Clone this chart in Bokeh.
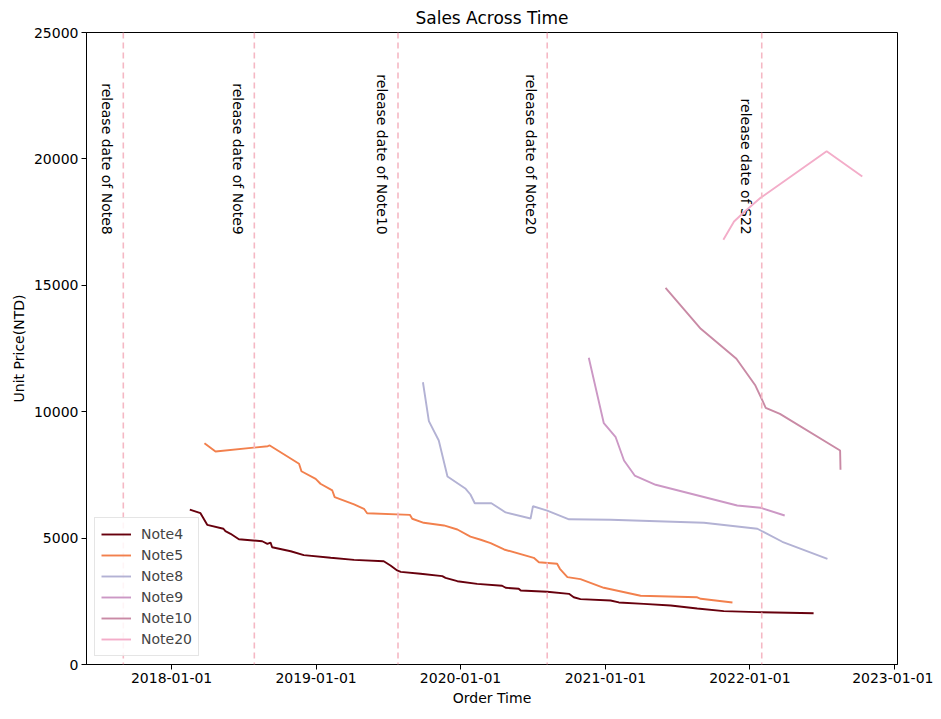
import math
import pandas as pd
from bokeh.plotting import figure
from bokeh.models import (Span, Legend, LegendItem, FixedTicker, DatetimeTickFormatter,
                          Range1d, ColumnDataSource)
from bokeh.core.properties import value
from bokeh.embed import file_html
from bokeh.resources import INLINE

FONT = "DejaVu Sans"

# ---------------- data ----------------
note4_dates = ["2018-02-16", "2018-03-15", "2018-04-01", "2018-05-12", "2018-05-17", "2018-05-30",
               "2018-06-20", "2018-08-18", "2018-08-31", "2018-09-08", "2018-09-12", "2018-10-29",
               "2018-12-01", "2019-02-07", "2019-04-07", "2019-06-21", "2019-07-08", "2019-07-25",
               "2019-08-03", "2019-09-22", "2019-11-16", "2019-11-24", "2019-12-24", "2020-02-12",
               "2020-04-15", "2020-04-24", "2020-05-27", "2020-06-01", "2020-08-07", "2020-10-01",
               "2020-10-13", "2020-10-30", "2021-01-14", "2021-02-04", "2021-04-08", "2021-06-15",
               "2021-08-21", "2021-10-27", "2022-01-20", "2022-06-11"]
note4_price = [6130, 5985, 5525, 5370, 5275, 5170,
               4955, 4875, 4775, 4825, 4640, 4480,
               4325, 4220, 4140, 4085, 3915, 3720,
               3665, 3590, 3495, 3430, 3295, 3190,
               3115, 3035, 2995, 2925, 2875, 2795,
               2660, 2585, 2530, 2455, 2400, 2335,
               2215, 2110, 2070, 2030]

note5_dates = ["2018-03-25", "2018-04-22", "2018-09-01", "2018-09-06", "2018-11-19", "2018-11-25",
               "2018-12-31", "2019-01-12", "2019-02-11", "2019-02-17", "2019-04-07", "2019-05-02",
               "2019-05-10", "2019-08-26", "2019-09-01", "2019-09-30", "2019-11-20", "2019-12-24",
               "2020-01-26", "2020-02-21", "2020-03-17", "2020-04-20", "2020-07-04", "2020-07-17",
               "2020-09-01", "2020-09-08", "2020-09-27", "2020-10-30", "2020-12-28", "2021-03-31",
               "2021-08-21", "2021-08-30", "2021-11-18"]
note5_price = [8755, 8425, 8635, 8665, 7940, 7645,
               7345, 7150, 6885, 6620, 6330, 6160,
               5985, 5920, 5765, 5605, 5500, 5340,
               5060, 4935, 4800, 4550, 4220, 4045,
               3985, 3785, 3455, 3375, 3035, 2720,
               2660, 2600, 2455]

note8_dates = ["2019-09-28", "2019-10-13", "2019-11-07", "2019-11-29", "2020-01-14", "2020-01-26",
               "2020-02-06", "2020-03-19", "2020-04-24", "2020-06-26", "2020-07-02", "2020-08-07",
               "2020-10-01", "2021-01-14", "2021-09-07", "2022-01-20", "2022-03-24", "2022-07-16"]
note8_price = [11165, 9625, 8860, 7440, 6950, 6725,
               6380, 6380, 6015, 5775, 6260, 6090,
               5745, 5725, 5605, 5370, 4855, 4180]

note9_dates = ["2020-11-20", "2020-12-28", "2021-01-27", "2021-02-17", "2021-03-16", "2021-05-08",
               "2021-11-30", "2022-01-28", "2022-03-30"]
note9_price = [12135, 9545, 8990, 8070, 7475, 7110, 6290, 6200, 5895]

note10_dates = ["2021-06-02", "2021-08-30", "2021-11-28", "2022-01-15", "2022-02-01", "2022-02-10",
                "2022-03-18", "2022-08-17", "2022-08-18"]
note10_price = [14900, 13280, 12095, 11035, 10470, 10155, 9915, 8465, 7700]

note20_dates = ["2021-10-26", "2021-11-22", "2021-12-17", "2022-01-28", "2022-07-14", "2022-10-12"]
note20_price = [16800, 17525, 17890, 18460, 20305, 19305]

series_names = ["Note4", "Note5", "Note8", "Note9", "Note10", "Note20"]
series_colors = ["#67000d", "#f2804d", "#b3b2d4", "#cc98c5", "#c98aa5", "#f3adc9"]

release_dates = ["2017-09-01", "2018-07-29", "2019-07-27", "2020-08-07", "2022-01-31"]
release_labels = ["release date of Note8", "release date of Note9", "release date of Note10",
                  "release date of Note20", "release date of S22"]
release_label_y = [17000, 17000, 17000, 17000, 17000]

x_ticks = ["2018-01-01", "2019-01-01", "2020-01-01", "2021-01-01", "2022-01-01", "2023-01-01"]
y_ticks = [0, 5000, 10000, 15000, 20000, 25000]
x_start, x_end = "2017-05-31", "2023-01-09"
y_start, y_end = 0, 25000


def ms(s):
    return pd.Timestamp(s).value // 10**6


# ---------------- figure ----------------
p = figure(width=933, height=711, x_axis_type="datetime", output_backend="svg",
           toolbar_location=None, title="Sales Across Time",
           x_range=Range1d(pd.Timestamp(x_start), pd.Timestamp(x_end)),
           y_range=Range1d(y_start, y_end),
           min_border_left=86, min_border_right=36, min_border_top=32, min_border_bottom=47)

p.title.align = "center"
p.title.text_font = FONT
p.title.text_font_size = "17px"
p.title.text_font_style = "normal"
p.title.text_color = "black"
p.title.offset = 0

p.xgrid.visible = False
p.ygrid.visible = False
p.outline_line_color = "black"
p.outline_line_alpha = 1
p.outline_line_width = 1

p.xaxis.ticker = FixedTicker(ticks=[ms(t) for t in x_ticks])
p.xaxis.formatter = DatetimeTickFormatter(
    milliseconds="%Y-%m-%d", seconds="%Y-%m-%d", minsec="%Y-%m-%d", minutes="%Y-%m-%d",
    hourmin="%Y-%m-%d", hours="%Y-%m-%d", days="%Y-%m-%d", months="%Y-%m-%d", years="%Y-%m-%d")
p.yaxis.ticker = FixedTicker(ticks=y_ticks)

for ax in (p.xaxis, p.yaxis):
    ax.axis_line_color = "black"
    ax.major_tick_line_color = "black"
    ax.minor_tick_line_color = None
    ax.major_tick_out = 5
    ax.major_tick_in = 0
    ax.major_label_text_font = FONT
    ax.major_label_text_font_size = "14px"
    ax.major_label_text_color = "black"
    ax.axis_label_text_font = FONT
    ax.axis_label_text_font_size = "14px"
    ax.axis_label_text_font_style = "normal"
    ax.axis_label_text_color = "black"
    ax.major_label_standoff = 3
    ax.axis_label_standoff = 4

p.xaxis.axis_label = "Order Time"
p.yaxis.axis_label = "Unit Price(NTD)"

# release-date lines
for d in release_dates:
    p.add_layout(Span(location=ms(d), dimension="height", line_color="#f5b8c4",
                      line_dash="6 4", line_width=1.6))

src = ColumnDataSource(dict(x=[pd.Timestamp(d) for d in release_dates], y=release_label_y,
                            t=release_labels))
p.text(x="x", y="y", text="t", source=src, angle=-math.pi / 2, text_align="right",
       text_baseline="top", x_offset=-8, text_font=value(FONT), text_font_size="14px",
       text_color="black")

all_dates = [note4_dates, note5_dates, note8_dates, note9_dates, note10_dates, note20_dates]
all_prices = [note4_price, note5_price, note8_price, note9_price, note10_price, note20_price]
items = []
for name, col, ds, ps in zip(series_names, series_colors, all_dates, all_prices):
    r = p.line([pd.Timestamp(d) for d in ds], ps, line_color=col, line_width=1.9)
    items.append(LegendItem(label=name, renderers=[r]))

legend = Legend(items=items, location="bottom_left")
legend.label_text_font = FONT
legend.label_text_font_size = "14px"
legend.border_line_color = "#cccccc"
legend.border_line_width = 1
legend.background_fill_alpha = 0.85
legend.glyph_width = 30
legend.glyph_height = 20
legend.label_height = 20
legend.label_standoff = 10
legend.spacing = 1
legend.padding = 6
legend.margin = 8
p.add_layout(legend)

open("out.html", "w").write(file_html(p, INLINE))
